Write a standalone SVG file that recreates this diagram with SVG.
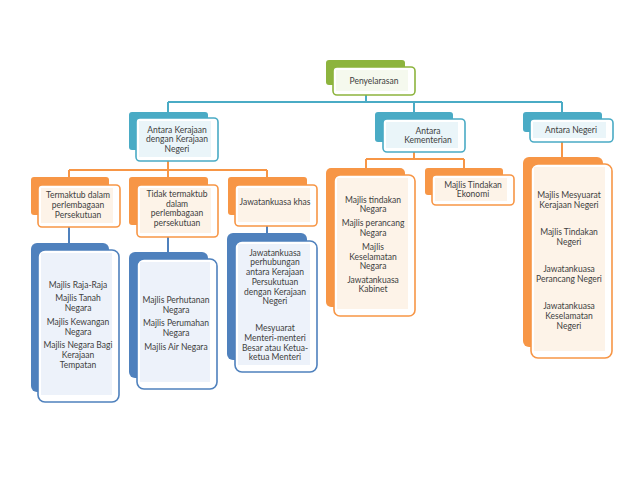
<svg xmlns="http://www.w3.org/2000/svg" width="640" height="485" viewBox="0 0 640 485">
<style>
text{font-family:Lato,"Open Sans","Liberation Sans",sans-serif;font-size:8.5px;fill:#404040;text-anchor:middle}
.bg{fill:#8db43e}.fg{fill:#fff;stroke:#8db43e;stroke-width:1.6}.ig{fill:#f5f9ee}
.bt{fill:#4aabc5}.ft{fill:#fff;stroke:#4aabc5;stroke-width:1.6}.it{fill:#eaf5f9}
.bo{fill:#f79646}.fo{fill:#fff;stroke:#f79646;stroke-width:1.6}.io{fill:#fdf3e8}
.bb{fill:#4f81bd}.fb{fill:#fff;stroke:#4f81bd;stroke-width:1.6}.ib{fill:#edf2fa}
.ct{stroke:#4aabc5;stroke-width:2;fill:none}.co{stroke:#f79646;stroke-width:2;fill:none}.cb{stroke:#4f81bd;stroke-width:2;fill:none}
</style>
<rect width="640" height="485" fill="#fff"/>
<g id="connectors">
<path class="ct" d="M366 95V102M168 102H562M168 102V112M414 102V112M562 102V112"/>
<path class="co" d="M168 161V170M69 170H267M69 170V177M168 170V177M267 170V177"/>
<path class="co" d="M414 152V159M366 159H464M366 159V168M464 159V168"/>
<path class="co" d="M562 142V157"/>
<path class="cb" d="M69 227V243M168 237V252M267 226V233"/>
</g>
<g id="penyelarasan">
<rect class="bg" x="326" y="60" width="79" height="25" rx="3"/>
<rect class="fg" x="333" y="67" width="82" height="28" rx="4"/>
<rect class="ig" x="336" y="70" width="72" height="21"/>
<text x="374" y="84">Penyelarasan</text>
</g>
<g id="antara-kerajaan">
<rect class="bt" x="129" y="112" width="79" height="38" rx="3"/>
<rect class="ft" x="136" y="118" width="82" height="43" rx="4"/>
<rect class="it" x="139" y="121" width="72" height="36"/>
<text x="177" y="133">Antara Kerajaan</text>
<text x="177" y="142">dengan Kerajaan</text>
<text x="177" y="152">Negeri</text>
</g>
<g id="antara-kementerian">
<rect class="bt" x="375" y="112" width="78" height="30" rx="3"/>
<rect class="ft" x="383" y="119" width="82" height="33" rx="4"/>
<rect class="it" x="386" y="122" width="72" height="26"/>
<text x="428" y="134">Antara</text>
<text x="428" y="143">Kementerian</text>
</g>
<g id="antara-negeri">
<rect class="bt" x="523" y="112" width="79" height="20" rx="3"/>
<rect class="ft" x="530" y="119" width="83" height="23" rx="4"/>
<rect class="it" x="533" y="122" width="73" height="16"/>
<text x="571" y="133">Antara Negeri</text>
</g>
<g id="termaktub">
<rect class="bo" x="31" y="177" width="78" height="38" rx="3"/>
<rect class="fo" x="38" y="185" width="82" height="42" rx="4"/>
<rect class="io" x="41" y="188" width="72" height="35"/>
<text x="78" y="198">Termaktub dalam</text>
<text x="78" y="208">perlembagaan</text>
<text x="78" y="218">Persekutuan</text>
</g>
<g id="tidak-termaktub">
<rect class="bo" x="129" y="177" width="79" height="48" rx="3"/>
<rect class="fo" x="137" y="185" width="81" height="52" rx="4"/>
<rect class="io" x="140" y="188" width="71" height="45"/>
<text x="177" y="197">Tidak termaktub</text>
<text x="177" y="207">dalam</text>
<text x="177" y="216">perlembagaan</text>
<text x="177" y="226">persekutuan</text>
</g>
<g id="jawatankuasa-khas">
<rect class="bo" x="228" y="177" width="79" height="38" rx="3"/>
<rect class="fo" x="235" y="185" width="82" height="41" rx="4"/>
<rect class="io" x="238" y="188" width="72" height="34"/>
<text x="275" y="205">Jawatankuasa khas</text>
</g>
<g id="majlis-tindakan-negara">
<rect class="bo" x="326" y="168" width="79" height="139" rx="5"/>
<rect class="fo" x="334" y="175" width="81" height="141" rx="6"/>
<rect class="io" x="337" y="178" width="71" height="131"/>
<text x="373" y="203">Majlis tindakan</text>
<text x="373" y="212">Negara</text>
<text x="373" y="226">Majlis perancang</text>
<text x="373" y="236">Negara</text>
<text x="373" y="250">Majlis</text>
<text x="373" y="260">Keselamatan</text>
<text x="373" y="269">Negara</text>
<text x="373" y="283">Jawatankuasa</text>
<text x="373" y="292">Kabinet</text>
</g>
<g id="majlis-tindakan-ekonomi">
<rect class="bo" x="425" y="168" width="78" height="27" rx="3"/>
<rect class="fo" x="432" y="175" width="82" height="30" rx="4"/>
<rect class="io" x="435" y="178" width="72" height="23"/>
<text x="473" y="188">Majlis Tindakan</text>
<text x="473" y="197">Ekonomi</text>
</g>
<g id="majlis-negeri">
<rect class="bo" x="523" y="157" width="80" height="190" rx="6"/>
<rect class="fo" x="531" y="164" width="81" height="194" rx="7"/>
<rect class="io" x="534" y="167" width="71" height="184"/>
<text x="569" y="198">Majlis Mesyuarat</text>
<text x="569" y="208">Kerajaan Negeri</text>
<text x="569" y="235">Majlis Tindakan</text>
<text x="569" y="245">Negeri</text>
<text x="569" y="272">Jawatankuasa</text>
<text x="569" y="282">Perancang Negeri</text>
<text x="569" y="309">Jawatankuasa</text>
<text x="569" y="319">Keselamatan</text>
<text x="569" y="329">Negeri</text>
</g>
<g id="majlis-persekutuan">
<rect class="bb" x="31" y="243" width="78" height="149" rx="6"/>
<rect class="fb" x="38" y="250" width="81" height="152" rx="7"/>
<rect class="ib" x="41" y="253" width="71" height="142"/>
<text x="78" y="288">Majlis Raja-Raja</text>
<text x="78" y="301">Majlis Tanah</text>
<text x="78" y="311">Negara</text>
<text x="78" y="325">Majlis Kewangan</text>
<text x="78" y="335">Negara</text>
<text x="78" y="348">Majlis Negara Bagi</text>
<text x="78" y="358">Kerajaan</text>
<text x="78" y="368">Tempatan</text>
</g>
<g id="majlis-bukan-persekutuan">
<rect class="bb" x="129" y="252" width="79" height="126" rx="6"/>
<rect class="fb" x="137" y="259" width="80" height="130" rx="7"/>
<rect class="ib" x="140" y="262" width="70" height="120"/>
<text x="176" y="303">Majlis Perhutanan</text>
<text x="176" y="313">Negara</text>
<text x="176" y="326">Majlis Perumahan</text>
<text x="176" y="336">Negara</text>
<text x="176" y="350">Majlis Air Negara</text>
</g>
<g id="jawatankuasa-perhubungan">
<rect class="bb" x="227" y="233" width="80" height="127" rx="6"/>
<rect class="fb" x="235" y="241" width="82" height="131" rx="7"/>
<rect class="ib" x="238" y="244" width="72" height="121"/>
<text x="275" y="256">Jawatankuasa</text>
<text x="275" y="265">perhubungan</text>
<text x="275" y="275">antara Kerajaan</text>
<text x="275" y="285">Persukutuan</text>
<text x="275" y="295">dengan Kerajaan</text>
<text x="275" y="304">Negeri</text>
<text x="275" y="331">Mesyuarat</text>
<text x="275" y="341">Menteri-menteri</text>
<text x="275" y="351">Besar atau Ketua-</text>
<text x="275" y="360">ketua Menteri</text>
</g>
</svg>
